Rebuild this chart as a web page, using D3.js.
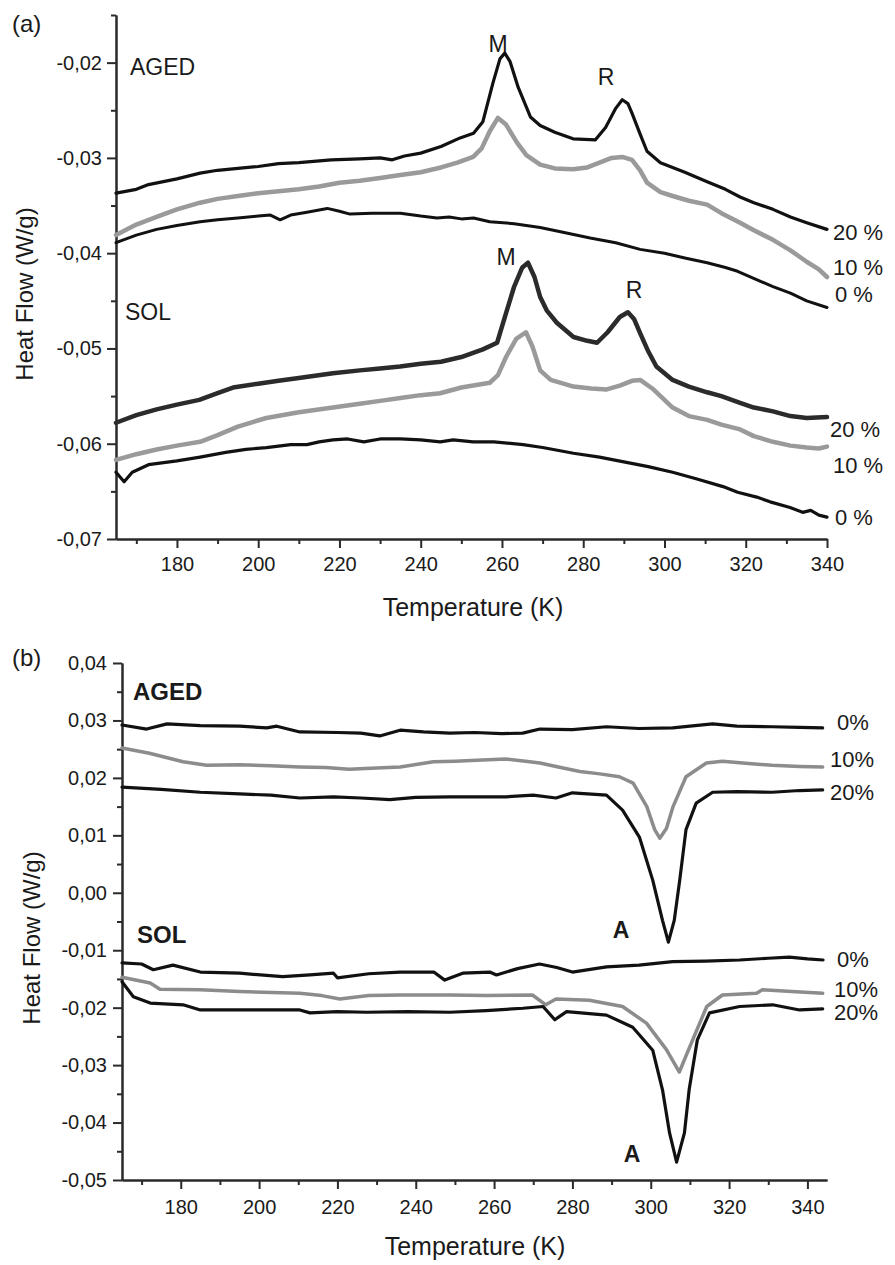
<!DOCTYPE html>
<html>
<head>
<title>DSC Heat Flow</title>
<style>
  body { margin: 0; background: #fff; }
  svg { display: block; }
  text { font-family: "Liberation Sans", Arial, sans-serif; fill: #1a1a1a; }
  .axis path, .axis line { stroke: #2a2a2a; stroke-width: 2; }
  .axis text { font-size: 20px; fill: #1a1a1a; }
  .trace { fill: none; stroke-linejoin: round; stroke-linecap: round; }
</style>
</head>
<body>
<svg id="chart" width="895" height="1265"></svg>

<script src="https://cdnjs.cloudflare.com/ajax/libs/d3/7.8.5/d3.min.js"></script>
<script>
  // ---- panel (a) data: [T (K), heat flow (W/g)] ----
  const agedA20 = [[165,-0.0337],[170,-0.0333],[173,-0.0328],[180,-0.0322],[185.7,-0.0316],[190,-0.0313],[195,-0.0311],[200,-0.0309],[205,-0.0306],[210,-0.0305],[218,-0.0302],[225,-0.0301],[230,-0.0300],[233,-0.0302],[236,-0.0298],[240,-0.0295],[245,-0.0288],[249.7,-0.0279],[253,-0.0274],[255.3,-0.0262],[257.8,-0.0221],[259.5,-0.0196],[260.7,-0.0190],[262,-0.0199],[264,-0.0226],[267,-0.0257],[269.4,-0.0266],[273,-0.0273],[277.5,-0.0280],[283,-0.0281],[285.5,-0.0268],[288,-0.0248],[289.6,-0.0239],[291,-0.0243],[292,-0.0253],[294,-0.0275],[295.7,-0.0293],[299,-0.0305],[305,-0.0315],[310.5,-0.0325],[315,-0.0333],[318.6,-0.0341],[322,-0.0347],[326.7,-0.0354],[331,-0.0362],[335,-0.0368],[340,-0.0375]];
  const agedA10 = [[165,-0.0381],[170,-0.0370],[175,-0.0362],[180,-0.0354],[185.7,-0.0347],[190,-0.0343],[195,-0.0340],[200,-0.0337],[205,-0.0335],[210,-0.0333],[215,-0.0330],[220,-0.0326],[225,-0.0324],[230,-0.0321],[235,-0.0318],[240,-0.0315],[245,-0.0310],[249,-0.0305],[252.9,-0.0299],[255,-0.0290],[257,-0.0272],[259,-0.0258],[261,-0.0265],[263.7,-0.0284],[266,-0.0297],[269.4,-0.0307],[273,-0.0311],[277.5,-0.0312],[281,-0.0310],[284,-0.0305],[287,-0.0300],[289.6,-0.0299],[292,-0.0302],[294,-0.0313],[295.7,-0.0326],[299,-0.0336],[302,-0.0340],[306,-0.0345],[310.5,-0.0349],[314,-0.0358],[318.6,-0.0368],[322,-0.0376],[326.7,-0.0386],[331,-0.0397],[335,-0.0409],[338,-0.0417],[340,-0.0425]];
  const agedA0 = [[165,-0.0389],[170,-0.0381],[175,-0.0375],[180,-0.0371],[185.7,-0.0367],[190,-0.0365],[195,-0.0363],[200,-0.0361],[203,-0.0360],[205.4,-0.0365],[208,-0.0360],[212,-0.0357],[217,-0.0353],[220,-0.0356],[222.6,-0.0359],[228,-0.0358],[235,-0.0358],[240,-0.0361],[244,-0.0363],[247,-0.0362],[250,-0.0364],[253,-0.0363],[257,-0.0367],[263,-0.0369],[269.4,-0.0373],[275,-0.0378],[281.7,-0.0384],[288,-0.0389],[294,-0.0396],[300,-0.0400],[305,-0.0405],[310.5,-0.0410],[315,-0.0415],[318,-0.0419],[322.8,-0.0428],[326.7,-0.0435],[331,-0.0442],[335,-0.0450],[340,-0.0457]];
  const solA20 = [[165,-0.0578],[170,-0.0570],[175,-0.0564],[180,-0.0559],[185.5,-0.0554],[190,-0.0547],[193.8,-0.0541],[200,-0.0537],[205,-0.0534],[210,-0.0531],[218.4,-0.0526],[225,-0.0523],[230,-0.0521],[234.9,-0.0519],[240,-0.0516],[245,-0.0514],[250,-0.0509],[255.3,-0.0501],[258.8,-0.0494],[261,-0.0463],[263,-0.0435],[265,-0.0415],[266.4,-0.0410],[268,-0.0425],[269.4,-0.0446],[271,-0.0460],[273.5,-0.0473],[277.6,-0.0488],[281,-0.0492],[283.4,-0.0494],[286,-0.0483],[289,-0.0467],[291,-0.0462],[292.5,-0.0469],[294,-0.0484],[296,-0.0503],[298,-0.0519],[302,-0.0533],[306,-0.0540],[310.5,-0.0546],[314,-0.0550],[318.6,-0.0557],[322,-0.0562],[326.7,-0.0566],[331,-0.0571],[335,-0.0573],[340,-0.0572]];
  const solA10 = [[165,-0.0617],[170,-0.0611],[175,-0.0606],[180,-0.0602],[185.7,-0.0598],[190,-0.0591],[195,-0.0582],[202,-0.0573],[210,-0.0567],[218.4,-0.0562],[225,-0.0558],[230,-0.0555],[235,-0.0552],[240,-0.0549],[244.8,-0.0547],[250,-0.0541],[257,-0.0536],[259,-0.0528],[261,-0.0509],[263.5,-0.0490],[265.9,-0.0483],[267.5,-0.0498],[269.4,-0.0523],[272,-0.0533],[277.6,-0.0540],[282,-0.0542],[285.8,-0.0543],[289,-0.0539],[292,-0.0534],[294,-0.0533],[297,-0.0542],[302,-0.0562],[306,-0.0571],[310.5,-0.0575],[314,-0.0580],[318.6,-0.0585],[322,-0.0592],[326.7,-0.0598],[331,-0.0602],[335,-0.0604],[338,-0.0605],[340,-0.0603]];
  const solA0 = [[165,-0.0630],[167,-0.0640],[169,-0.0630],[173,-0.0622],[180,-0.0618],[185.7,-0.0614],[192,-0.0609],[197,-0.0606],[202,-0.0604],[208,-0.0601],[212,-0.0601],[215,-0.0598],[218.4,-0.0596],[222,-0.0595],[226,-0.0598],[230,-0.0595],[235,-0.0595],[240,-0.0596],[244.8,-0.0598],[248,-0.0596],[252.9,-0.0598],[258,-0.0598],[265.2,-0.0601],[270,-0.0604],[277.6,-0.0610],[284,-0.0614],[290,-0.0619],[296,-0.0624],[302,-0.0630],[308,-0.0637],[314.4,-0.0645],[318,-0.0651],[322.7,-0.0656],[326,-0.0661],[330.9,-0.0667],[334,-0.0672],[336,-0.0670],[338,-0.0675],[340,-0.0677]];

  // ---- panel (b) data ----
  const agedB0 = [[165,0.0292],[171.3,0.0285],[176.5,0.0294],[185,0.0291],[195,0.0290],[202,0.0287],[204.5,0.0290],[210.4,0.0280],[220,0.0279],[226,0.0278],[230.8,0.0273],[236,0.0283],[242,0.0280],[248.7,0.0278],[255,0.0279],[262,0.0277],[267.3,0.0278],[271.7,0.0285],[280,0.0284],[288.7,0.0289],[297,0.0286],[305.6,0.0287],[310,0.0290],[315.8,0.0294],[322,0.0290],[331,0.0289],[338,0.0288],[343.9,0.0287]];
  const agedB10 = [[165,0.0252],[172,0.0243],[180.6,0.0228],[186.6,0.0222],[195,0.0223],[203,0.0221],[210.4,0.0219],[217,0.0218],[223,0.0215],[230,0.0217],[236,0.0219],[244.5,0.0228],[250,0.0229],[257,0.0231],[263,0.0233],[268,0.0229],[271.7,0.0226],[277,0.0218],[281.9,0.0211],[287,0.0207],[292,0.0202],[295.5,0.0191],[299,0.0150],[301,0.0110],[302.3,0.0095],[304,0.0112],[305.7,0.0150],[309,0.0202],[314.2,0.0226],[318.3,0.0229],[325,0.0225],[331,0.0222],[338,0.0220],[343.9,0.0219]];
  const agedB20 = [[165,0.0184],[175,0.0180],[185,0.0175],[195,0.0172],[203,0.0170],[210.4,0.0165],[219,0.0167],[226,0.0165],[233.4,0.0162],[240,0.0166],[248.7,0.0167],[256,0.0167],[263,0.0167],[270,0.0170],[275.8,0.0165],[280,0.0174],[288.7,0.0170],[292.8,0.0144],[297.1,0.0097],[300.5,0.0022],[303,-0.0048],[304.5,-0.0086],[306,-0.0048],[307.4,0.0022],[309,0.0110],[311.6,0.0156],[315.8,0.0175],[322,0.0176],[331,0.0175],[338,0.0178],[343.9,0.0179]];
  const solB0 = [[165,-0.0122],[170,-0.0124],[173,-0.0134],[178,-0.0126],[185,-0.0138],[195,-0.0140],[206,-0.0146],[213,-0.0143],[219,-0.0140],[220,-0.0148],[228,-0.0141],[236,-0.0138],[244.6,-0.0138],[247.4,-0.0152],[252,-0.0140],[258.9,-0.0138],[260.6,-0.0143],[266,-0.0132],[271.6,-0.0124],[276,-0.0130],[280,-0.0138],[288.7,-0.0129],[297,-0.0126],[305.6,-0.0120],[314,-0.0119],[322.7,-0.0117],[330,-0.0114],[335.4,-0.0112],[340,-0.0115],[344,-0.0117]];
  const solB10 = [[165,-0.0147],[172.2,-0.0157],[174.7,-0.0168],[185,-0.0169],[195,-0.0172],[210.4,-0.0175],[216,-0.0179],[220.6,-0.0185],[228,-0.0179],[236,-0.0178],[248.7,-0.0178],[258,-0.0179],[269.8,-0.0178],[273.2,-0.0195],[275.8,-0.0185],[284.3,-0.0187],[292.8,-0.0198],[298.9,-0.0227],[304,-0.0273],[307.3,-0.0312],[310.7,-0.0256],[314.3,-0.0198],[318.3,-0.0178],[327,-0.0175],[328.5,-0.0169],[336,-0.0172],[343.9,-0.0175]];
  const solB20 = [[165,-0.0155],[167.9,-0.0181],[172.2,-0.0192],[180.6,-0.0195],[185,-0.0204],[195,-0.0204],[210.4,-0.0204],[213,-0.0209],[220,-0.0207],[227.5,-0.0208],[238,-0.0207],[248.7,-0.0208],[258,-0.0205],[267.4,-0.0201],[272.5,-0.0198],[275.5,-0.0221],[278.5,-0.0207],[288.7,-0.0213],[295.4,-0.0234],[300.5,-0.0274],[303,-0.0343],[304.8,-0.0418],[306.6,-0.0469],[308.6,-0.0418],[309.8,-0.0343],[311.9,-0.0256],[315,-0.0209],[322.7,-0.0198],[331.1,-0.0195],[338,-0.0204],[343.9,-0.0202]];

  // ---- ticks ----
  const xMajorA = [180, 200, 220, 240, 260, 280, 300, 320, 340];
  const xMinorA = [170, 190, 210, 230, 250, 270, 290, 310, 330];
  const yMajorA = [-0.02, -0.03, -0.04, -0.05, -0.06, -0.07];
  const yMinorA = [-0.015, -0.025, -0.035, -0.045, -0.055, -0.065];
  const xMajorB = [180, 200, 220, 240, 260, 280, 300, 320, 340];
  const xMinorB = [170, 190, 210, 230, 250, 270, 290, 310, 330];
  const yMajorB = [0.04, 0.03, 0.02, 0.01, 0.00, -0.01, -0.02, -0.03, -0.04, -0.05];
  const yMinorB = [0.035, 0.025, 0.015, 0.005, -0.005, -0.015, -0.025, -0.035, -0.045];

  const svg = d3.select("#chart");
  const commaFmt = d3.formatLocale({ decimal: ",", thousands: ".", grouping: [3], currency: ["", ""], minus: "-" }).format(".2f");

  function drawAxes(x, y, xMaj, xMin, yMaj, yMin, opt) {
    const [x0] = x.range();
    const [y0] = y.range();
    svg.append("g").attr("class", "axis").attr("transform", `translate(0,${y0})`)
      .call(d3.axisBottom(x).tickValues(xMin).tickFormat("").tickSizeInner(5).tickSizeOuter(0));
    svg.append("g").attr("class", "axis").attr("transform", `translate(0,${y0})`)
      .call(d3.axisBottom(x).tickValues(xMaj).tickSizeInner(9).tickSizeOuter(0).tickPadding(opt.xPad));
    svg.append("g").attr("class", "axis").attr("transform", `translate(${x0},0)`)
      .call(d3.axisLeft(y).tickValues(yMin).tickFormat("").tickSizeInner(5).tickSizeOuter(0));
    svg.append("g").attr("class", "axis").attr("transform", `translate(${x0},0)`)
      .call(d3.axisLeft(y).tickValues(yMaj).tickFormat(commaFmt).tickSizeInner(9).tickSizeOuter(0).tickPadding(opt.yPad));
    svg.selectAll(".axis text").attr("font-family", null);
  }

  function drawTrace(x, y, data, color, width) {
    const line = d3.line().x(d => x(d[0])).y(d => y(d[1]));
    svg.append("path").datum(data).attr("class", "trace")
      .attr("d", line).attr("stroke", color).attr("stroke-width", width);
  }

  function label(txt, px, py, size, opts = {}) {
    const t = svg.append("text").attr("x", px).attr("y", py)
      .attr("font-size", size).text(txt);
    if (opts.bold) t.attr("font-weight", "bold");
    if (opts.anchor) t.attr("text-anchor", opts.anchor);
    if (opts.rotate) t.attr("transform", `rotate(-90,${px},${py})`);
    return t;
  }

  // ---------- panel (a) ----------
  const xA = d3.scaleLinear().domain([165, 340]).range([116, 827]);
  const yA = d3.scaleLinear().domain([-0.07, -0.015]).range([539, 15]);
  drawAxes(xA, yA, xMajorA, xMinorA, yMajorA, yMinorA, { xPad: 9, yPad: 5 });

  drawTrace(xA, yA, agedA0, "#111", 3);
  drawTrace(xA, yA, agedA10, "#9a9a9a", 4.5);
  drawTrace(xA, yA, agedA20, "#111", 3.2);
  drawTrace(xA, yA, solA0, "#111", 3.2);
  drawTrace(xA, yA, solA10, "#9a9a9a", 4.5);
  drawTrace(xA, yA, solA20, "#2b2b2b", 4.5);

  label("(a)", 12, 32, 24);
  label("AGED", 130, 75, 23);
  label("SOL", 125, 320, 23);
  label("M", 498, 52, 23, { anchor: "middle" });
  label("R", 606, 85, 23, { anchor: "middle" });
  label("M", 506, 265, 23, { anchor: "middle" });
  label("R", 634, 298, 23, { anchor: "middle" });
  label("20 %", 833, 240, 22);
  label("10 %", 833, 275, 22);
  label("0 %", 835, 302, 22);
  label("20 %", 830, 437, 22);
  label("10 %", 833, 473, 22);
  label("0 %", 835, 525, 22);
  label("Temperature (K)", 473, 616, 25, { anchor: "middle" });
  label("Heat Flow (W/g)", 33, 294, 24, { anchor: "middle", rotate: true });

  // ---------- panel (b) ----------
  const xB = d3.scaleLinear().domain([165, 345]).range([122, 827]);
  const yB = d3.scaleLinear().domain([-0.05, 0.04]).range([1180, 663]);
  drawAxes(xB, yB, xMajorB, xMinorB, yMajorB, yMinorB, { xPad: 11, yPad: 6 });

  drawTrace(xB, yB, agedB0, "#111", 3.2);
  drawTrace(xB, yB, agedB10, "#8c8c8c", 3.5);
  drawTrace(xB, yB, agedB20, "#111", 3.2);
  drawTrace(xB, yB, solB0, "#111", 3.2);
  drawTrace(xB, yB, solB10, "#8c8c8c", 3.5);
  drawTrace(xB, yB, solB20, "#111", 3.2);

  label("(b)", 12, 666, 24);
  label("AGED", 133, 700, 24, { bold: true });
  label("SOL", 137, 943, 24, { bold: true });
  label("A", 621, 938, 23, { bold: true, anchor: "middle" });
  label("A", 632, 1162, 23, { bold: true, anchor: "middle" });
  label("0%", 837, 730, 22);
  label("10%", 830, 767, 22);
  label("20%", 830, 800, 22);
  label("0%", 837, 967, 22);
  label("10%", 834, 997, 22);
  label("20%", 834, 1020, 22);
  label("Temperature (K)", 475, 1255, 25, { anchor: "middle" });
  label("Heat Flow (W/g)", 40, 938, 24, { anchor: "middle", rotate: true });
</script>
</body>
</html>
